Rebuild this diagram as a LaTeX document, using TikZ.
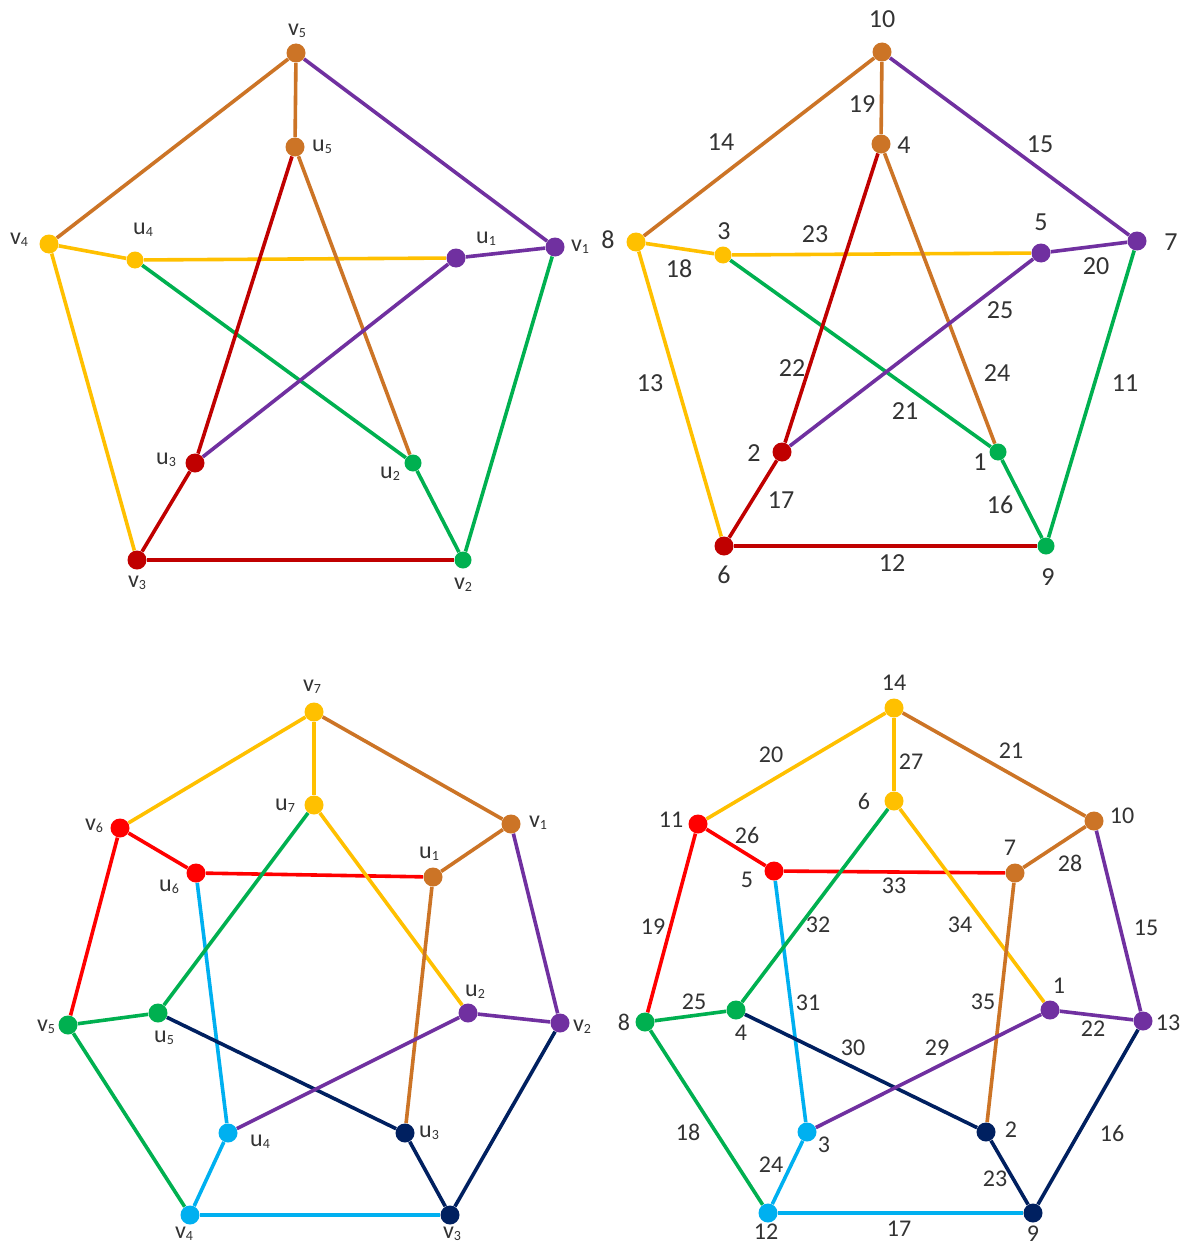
\documentclass[tikz,border=0pt]{standalone}
\usepackage{fontspec}
\setmainfont{Carlito}
\usetikzlibrary{backgrounds}
\definecolor{cOr}{HTML}{CC7426}
\definecolor{cPu}{HTML}{7030A0}
\definecolor{cDr}{HTML}{C00000}
\definecolor{cGr}{HTML}{00B050}
\definecolor{cGo}{HTML}{FFC000}
\definecolor{cRe}{HTML}{FF0000}
\definecolor{cLb}{HTML}{00B0F0}
\definecolor{cNv}{HTML}{002060}
\definecolor{cTx}{HTML}{333333}
\newcommand\vlab[2]{{\fontsize{12}{12}\selectfont #1}{\fontsize{7}{7}\selectfont\raisebox{-0.35ex}{#2}}}
\tikzset{
  dot/.style={circle, fill=#1, inner sep=0pt, minimum size=9.5pt},
  sdot/.style={dot=#1, minimum size=8.5pt},
  edge/.style={draw=#1, line width=1.8pt},
  vlabel/.style={text=cTx, inner sep=0pt},
  numt/.style={text=cTx, inner sep=0pt, font=\fontsize{13}{13}\selectfont},
  numb/.style={text=cTx, inner sep=0pt, font=\fontsize{12}{12}\selectfont}
}
\begin{document}
\begin{tikzpicture}[x=0.5pt,y=-0.5pt]
\useasboundingbox (0,0) rectangle (1181,1247);
% ================= top-left =================
\node[dot=cOr] (a-v5) at (296,53) {};
\node[dot=cOr] (a-u5) at (295,147) {};
\node[dot=cGo] (a-v4) at (49,244) {};
\node[sdot=cGo] (a-u4) at (135,260) {};
\node[dot=cPu] (a-u1) at (456,258) {};
\node[dot=cPu] (a-v1) at (555,247) {};
\node[dot=cDr] (a-u3) at (195,463) {};
\node[sdot=cGr] (a-u2) at (413,463) {};
\node[dot=cDr] (a-v3) at (137,560) {};
\node[sdot=cGr] (a-v2) at (463,560) {};
\node[vlabel] (a-lv5) at (297,31) {\vlab{v}{5}};
\node[vlabel] (a-lu5) at (322,147) {\vlab{u}{5}};
\node[vlabel] (a-lv4) at (19,240) {\vlab{v}{4}};
\node[vlabel] (a-lu4) at (143,230) {\vlab{u}{4}};
\node[vlabel] (a-lu1) at (486,239) {\vlab{u}{1}};
\node[vlabel] (a-lv1) at (580,247) {\vlab{v}{1}};
\node[vlabel] (a-lu3) at (166,460) {\vlab{u}{3}};
\node[vlabel] (a-lu2) at (390,474) {\vlab{u}{2}};
\node[vlabel] (a-lv3) at (137,583) {\vlab{v}{3}};
\node[vlabel] (a-lv2) at (463,585) {\vlab{v}{2}};
% ================= top-right =================
\node[dot=cOr] (b-10) at (882,52) {};
\node[dot=cOr] (b-4) at (881,144) {};
\node[dot=cGo] (b-8) at (636,242) {};
\node[sdot=cGo] (b-3) at (723,255) {};
\node[dot=cPu] (b-5) at (1041,253) {};
\node[dot=cPu] (b-7) at (1137,241) {};
\node[dot=cDr] (b-2) at (782,452) {};
\node[sdot=cGr] (b-1) at (998,452) {};
\node[dot=cDr] (b-6) at (724,546) {};
\node[sdot=cGr] (b-9) at (1046,546) {};
\node[numt] (b-l10) at (882,19) {10};
\node[numt] (b-l4) at (904,145) {4};
\node[numt] (b-l8) at (608,240) {8};
\node[numt] (b-l3) at (724,231) {3};
\node[numt] (b-l5) at (1041,222) {5};
\node[numt] (b-l7) at (1171,242) {7};
\node[numt] (b-l2) at (754,453) {2};
\node[numt] (b-l1) at (980,462) {1};
\node[numt] (b-l6) at (724,575) {6};
\node[numt] (b-l9) at (1048,577) {9};
\node[numt] (b-e19) at (862,104) {19};
\node[numt] (b-e14) at (721,142) {14};
\node[numt] (b-e15) at (1040,144) {15};
\node[numt] (b-e23) at (815,234) {23};
\node[numt] (b-e18) at (679,269) {18};
\node[numt] (b-e20) at (1096,266) {20};
\node[numt] (b-e25) at (1000,310) {25};
\node[numt] (b-e13) at (650,383) {13};
\node[numt] (b-e22) at (792,368) {22};
\node[numt] (b-e24) at (997,373) {24};
\node[numt] (b-e11) at (1125,383) {11};
\node[numt] (b-e21) at (905,411) {21};
\node[numt] (b-e17) at (781,500) {17};
\node[numt] (b-e16) at (1000,505) {16};
\node[numt] (b-e12) at (892,563) {12};
% ================= bottom-left =================
\node[dot=cGo] (c-v7) at (314,712) {};
\node[dot=cGo] (c-u7) at (314,805) {};
\node[dot=cRe] (c-v6) at (120,828) {};
\node[dot=cOr] (c-v1) at (511,824) {};
\node[dot=cRe] (c-u6) at (196,873) {};
\node[dot=cOr] (c-u1) at (433,877) {};
\node[dot=cGr] (c-v5) at (68,1025) {};
\node[dot=cGr] (c-u5) at (158,1013) {};
\node[dot=cPu] (c-u2) at (468,1013) {};
\node[dot=cPu] (c-v2) at (560,1023) {};
\node[dot=cLb] (c-u4) at (228,1133) {};
\node[dot=cNv] (c-u3) at (405,1133) {};
\node[dot=cLb] (c-v4) at (190,1215) {};
\node[dot=cNv] (c-v3) at (450,1215) {};
\node[vlabel] (c-lv7) at (312,687) {\vlab{v}{7}};
\node[vlabel] (c-lu7) at (285,806) {\vlab{u}{7}};
\node[vlabel] (c-lv6) at (94,826) {\vlab{v}{6}};
\node[vlabel] (c-lv1) at (538,823) {\vlab{v}{1}};
\node[vlabel] (c-lu1) at (429,854) {\vlab{u}{1}};
\node[vlabel] (c-lu6) at (169,887) {\vlab{u}{6}};
\node[vlabel] (c-lv5) at (46,1027) {\vlab{v}{5}};
\node[vlabel] (c-lu5) at (164,1038) {\vlab{u}{5}};
\node[vlabel] (c-lu2) at (475,992) {\vlab{u}{2}};
\node[vlabel] (c-lv2) at (582,1027) {\vlab{v}{2}};
\node[vlabel] (c-lu4) at (260,1142) {\vlab{u}{4}};
\node[vlabel] (c-lu3) at (429,1133) {\vlab{u}{3}};
\node[vlabel] (c-lv4) at (184,1234) {\vlab{v}{4}};
\node[vlabel] (c-lv3) at (452,1234) {\vlab{v}{3}};
% ================= bottom-right =================
\node[dot=cGo] (d-14) at (894,708) {};
\node[dot=cGo] (d-6) at (894,801) {};
\node[dot=cRe] (d-11) at (698,824) {};
\node[dot=cOr] (d-10) at (1094,821) {};
\node[dot=cRe] (d-5) at (774,871) {};
\node[dot=cOr] (d-7) at (1015,873) {};
\node[dot=cGr] (d-8) at (645,1022) {};
\node[dot=cGr] (d-4) at (736,1010) {};
\node[dot=cPu] (d-1) at (1050,1010) {};
\node[dot=cPu] (d-13) at (1143,1021) {};
\node[dot=cLb] (d-3) at (807,1132) {};
\node[dot=cNv] (d-2) at (986,1132) {};
\node[dot=cLb] (d-12) at (768,1213) {};
\node[dot=cNv] (d-9) at (1033,1213) {};
\node[numb] (d-l14) at (894,683) {14};
\node[numb] (d-l6) at (864,801) {6};
\node[numb] (d-l11) at (671,820) {11};
\node[numb] (d-l10) at (1122,816) {10};
\node[numb] (d-l7) at (1010,848) {7};
\node[numb] (d-l5) at (747,880) {5};
\node[numb] (d-l8) at (624,1022) {8};
\node[numb] (d-l4) at (741,1033) {4};
\node[numb] (d-l1) at (1059,986) {1};
\node[numb] (d-l13) at (1168,1023) {13};
\node[numb] (d-l3) at (824,1145) {3};
\node[numb] (d-l2) at (1011,1130) {2};
\node[numb] (d-l12) at (766,1232) {12};
\node[numb] (d-l9) at (1033,1234) {9};
\node[numb] (d-e20) at (771,755) {20};
\node[numb] (d-e27) at (911,762) {27};
\node[numb] (d-e21) at (1011,751) {21};
\node[numb] (d-e26) at (747,835) {26};
\node[numb] (d-e28) at (1070,863) {28};
\node[numb] (d-e33) at (894,886) {33};
\node[numb] (d-e19) at (653,927) {19};
\node[numb] (d-e32) at (818,925) {32};
\node[numb] (d-e34) at (960,925) {34};
\node[numb] (d-e15) at (1146,928) {15};
\node[numb] (d-e25) at (694,1002) {25};
\node[numb] (d-e31) at (808,1003) {31};
\node[numb] (d-e35) at (983,1002) {35};
\node[numb] (d-e22) at (1093,1029) {22};
\node[numb] (d-e30) at (853,1048) {30};
\node[numb] (d-e29) at (937,1048) {29};
\node[numb] (d-e18) at (688,1132) {18};
\node[numb] (d-e16) at (1112,1133) {16};
\node[numb] (d-e24) at (771,1165) {24};
\node[numb] (d-e23) at (995,1179) {23};
\node[numb] (d-e17) at (899,1229) {17};
% ================= edges =================
\begin{scope}[on background layer]
\fill[white] (0,0) rectangle (1181,1247);
% top-left
\draw[edge=cOr] (a-v5) -- (a-v4);
\draw[edge=cOr] (a-v5) -- (a-u5);
\draw[edge=cPu] (a-v5) -- (a-v1);
\draw[edge=cGo] (a-v4) -- (a-u4);
\draw[edge=cGo] (a-v4) -- (a-v3);
\draw[edge=cGo] (a-u4) -- (a-u1);
\draw[edge=cGr] (a-u4) -- (a-u2);
\draw[edge=cDr] (a-u5) -- (a-u3);
\draw[edge=cOr] (a-u5) -- (a-u2);
\draw[edge=cPu] (a-u1) -- (a-v1);
\draw[edge=cPu] (a-u1) -- (a-u3);
\draw[edge=cGr] (a-v1) -- (a-v2);
\draw[edge=cDr] (a-u3) -- (a-v3);
\draw[edge=cGr] (a-u2) -- (a-v2);
\draw[edge=cDr] (a-v3) -- (a-v2);
% top-right
\draw[edge=cOr] (b-10) -- (b-8);
\draw[edge=cOr] (b-10) -- (b-4);
\draw[edge=cPu] (b-10) -- (b-7);
\draw[edge=cGo] (b-8) -- (b-3);
\draw[edge=cGo] (b-8) -- (b-6);
\draw[edge=cGo] (b-3) -- (b-5);
\draw[edge=cGr] (b-3) -- (b-1);
\draw[edge=cDr] (b-4) -- (b-2);
\draw[edge=cOr] (b-4) -- (b-1);
\draw[edge=cPu] (b-5) -- (b-7);
\draw[edge=cPu] (b-5) -- (b-2);
\draw[edge=cGr] (b-7) -- (b-9);
\draw[edge=cDr] (b-2) -- (b-6);
\draw[edge=cGr] (b-1) -- (b-9);
\draw[edge=cDr] (b-6) -- (b-9);
% bottom-left
\draw[edge=cGo] (c-v7) -- (c-v6);
\draw[edge=cGo] (c-v7) -- (c-u7);
\draw[edge=cOr] (c-v7) -- (c-v1);
\draw[edge=cRe] (c-v6) -- (c-u6);
\draw[edge=cRe] (c-v6) -- (c-v5);
\draw[edge=cRe] (c-u6) -- (c-u1);
\draw[edge=cLb] (c-u6) -- (c-u4);
\draw[edge=cGr] (c-u7) -- (c-u5);
\draw[edge=cGo] (c-u7) -- (c-u2);
\draw[edge=cOr] (c-v1) -- (c-u1);
\draw[edge=cPu] (c-v1) -- (c-v2);
\draw[edge=cOr] (c-u1) -- (c-u3);
\draw[edge=cGr] (c-v5) -- (c-u5);
\draw[edge=cGr] (c-v5) -- (c-v4);
\draw[edge=cNv] (c-u5) -- (c-u3);
\draw[edge=cPu] (c-u2) -- (c-v2);
\draw[edge=cPu] (c-u2) -- (c-u4);
\draw[edge=cNv] (c-v2) -- (c-v3);
\draw[edge=cLb] (c-u4) -- (c-v4);
\draw[edge=cNv] (c-u3) -- (c-v3);
\draw[edge=cLb] (c-v4) -- (c-v3);
% bottom-right
\draw[edge=cGo] (d-14) -- (d-11);
\draw[edge=cGo] (d-14) -- (d-6);
\draw[edge=cOr] (d-14) -- (d-10);
\draw[edge=cRe] (d-11) -- (d-5);
\draw[edge=cRe] (d-11) -- (d-8);
\draw[edge=cRe] (d-5) -- (d-7);
\draw[edge=cLb] (d-5) -- (d-3);
\draw[edge=cGr] (d-6) -- (d-4);
\draw[edge=cGo] (d-6) -- (d-1);
\draw[edge=cOr] (d-10) -- (d-7);
\draw[edge=cPu] (d-10) -- (d-13);
\draw[edge=cOr] (d-7) -- (d-2);
\draw[edge=cGr] (d-8) -- (d-4);
\draw[edge=cGr] (d-8) -- (d-12);
\draw[edge=cNv] (d-4) -- (d-2);
\draw[edge=cPu] (d-1) -- (d-13);
\draw[edge=cPu] (d-1) -- (d-3);
\draw[edge=cNv] (d-13) -- (d-9);
\draw[edge=cLb] (d-3) -- (d-12);
\draw[edge=cNv] (d-2) -- (d-9);
\draw[edge=cLb] (d-12) -- (d-9);
\end{scope}
\end{tikzpicture}
\end{document}
